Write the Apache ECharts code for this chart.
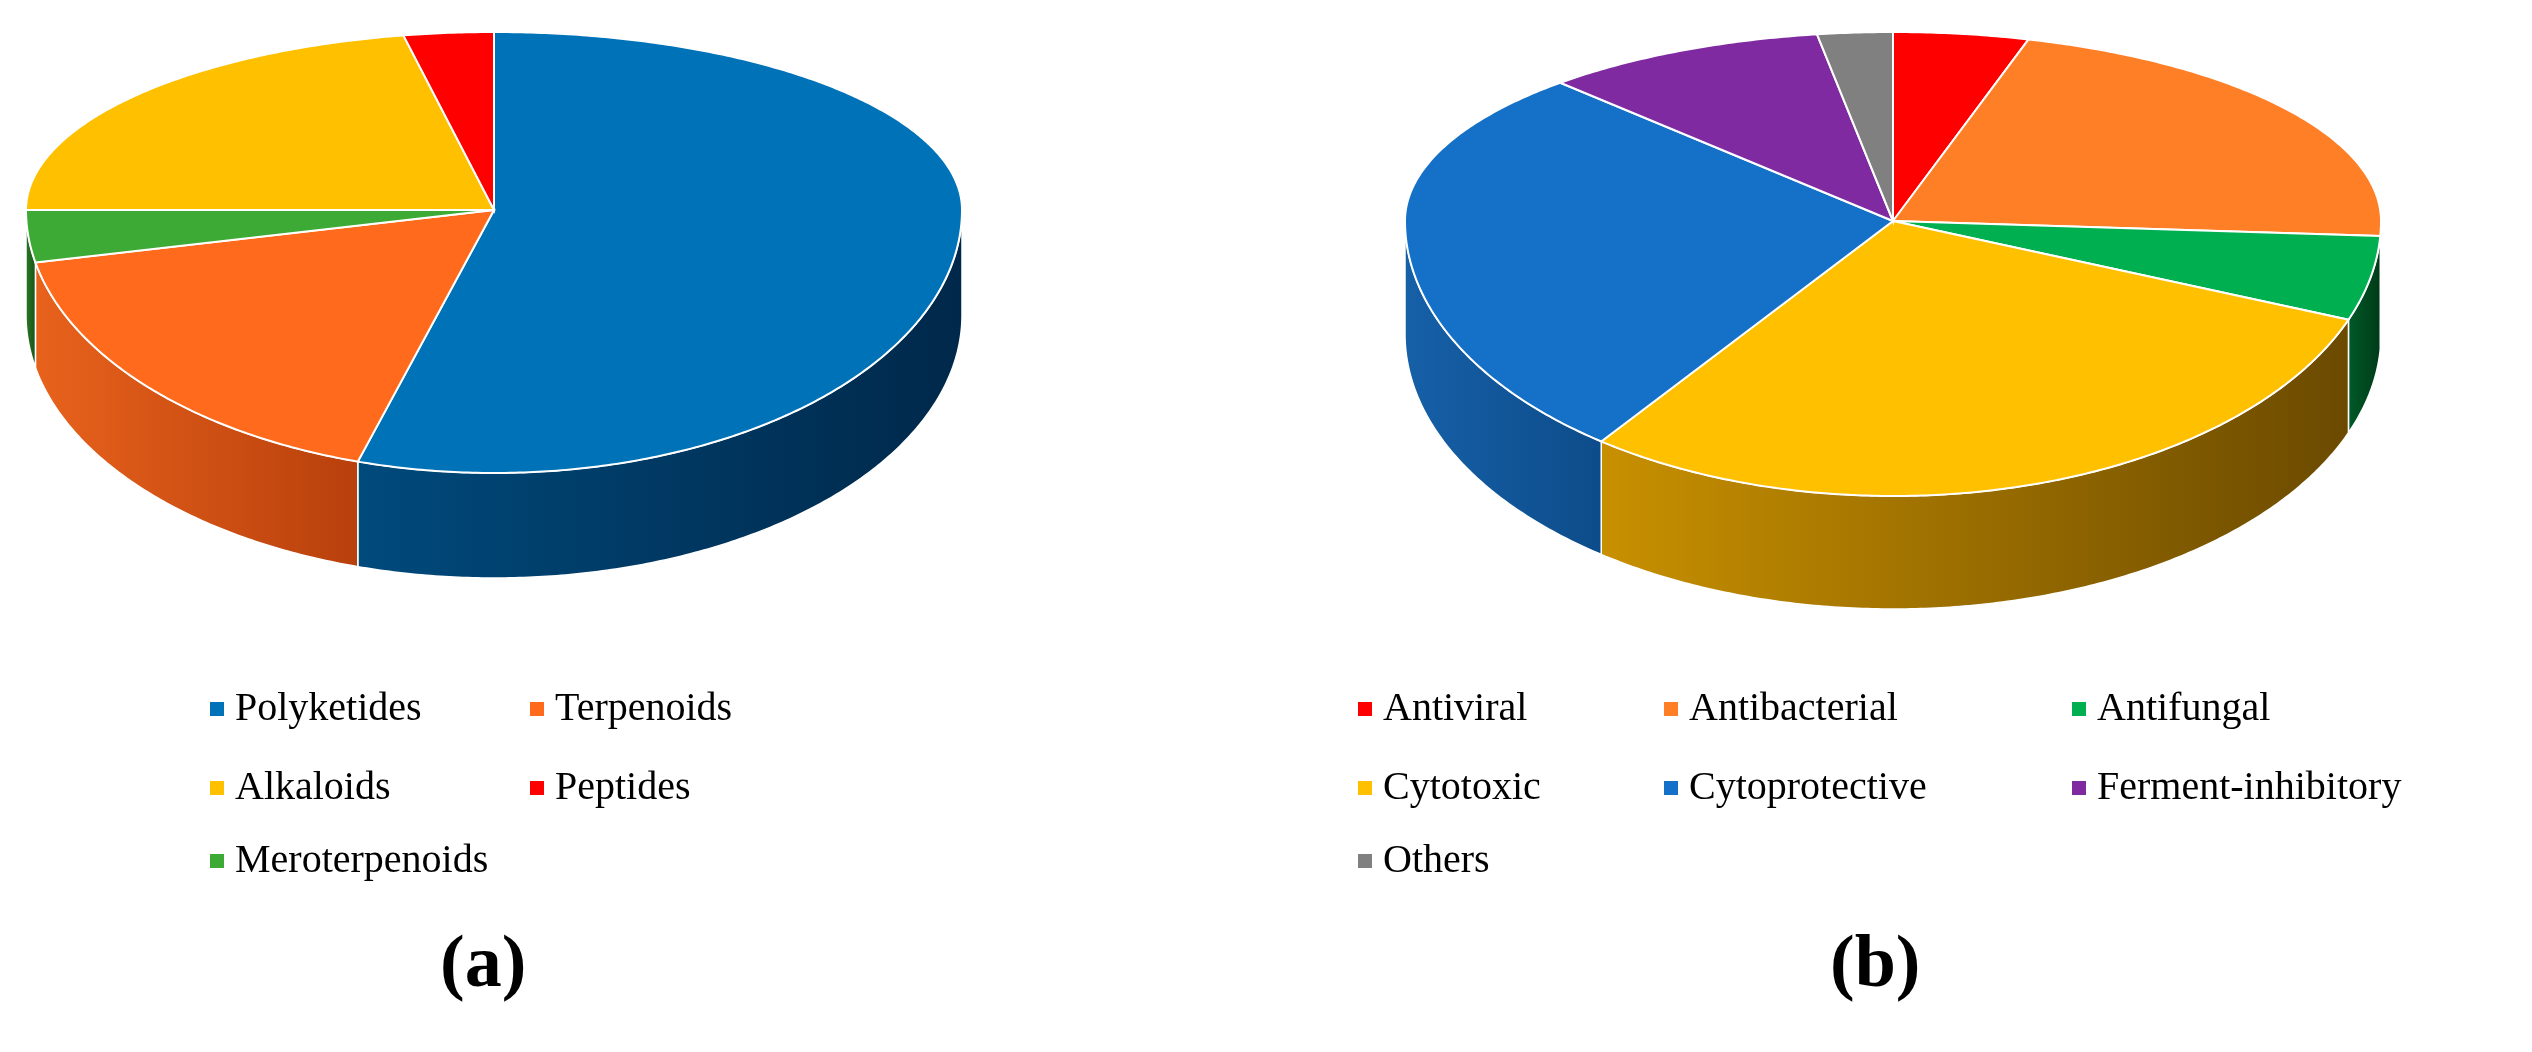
<!DOCTYPE html><html><head><meta charset="utf-8">
<script src="https://cdn.jsdelivr.net/npm/echarts@6/dist/echarts.min.js"></script>
<style>html,body{margin:0;padding:0;background:#fff}#c{width:2532px;height:1052px}</style></head><body><div id="c"></div>
<script>
const namesA=['Polyketides','Terpenoids','Meroterpenoids','Alkaloids','Peptides'];
const valuesA=[54.7,17.1,3.2,21.9,3.1];
const colorsA=['#0072B8','#FF6A1C','#3DAA35','#FFC000','#FF0000'];
const sideA=[['#004a7c','#00284a'],['#e8621c','#b8400c'],['#2a7a25','#1a5015'],['#c89000','#6b4a00'],['#b00000','#700000']];
const namesB=['Antiviral','Antibacterial','Antifungal','Cytotoxic','Cytoprotective','Ferment-inhibitory','Others'];
const valuesB=[4.5,21.5,5,29.5,28,9.5,2.5];
const colorsB=['#FF0000','#FF7F27','#00B050','#FFC000','#1570C8','#7F2AA0','#808080'];
const sideB=[['#b00000','#700000'],['#d06010','#904008'],['#005a28','#003a18'],['#c89000','#6b4a00'],['#1660a8','#0d4c8a'],['#5a1a78','#3a0e50'],['#606060','#404040']];
const geomA={cx:494,cy:210,rx:468,ryT:178,ryB:263,d:105};
const geomB={cx:1893,cy:221,rx:488,ryT:189,ryB:275,d:113};

function pt(g,t,dy){const s=Math.sin(t),c=Math.cos(t);return [g.cx+g.rx*s,g.cy-(c>0?g.ryT:g.ryB)*c+(dy||0)];}
function angles(vals){const tot=vals.reduce((a,b)=>a+b,0);let acc=0;return vals.map(v=>{const a0=acc/tot*2*Math.PI;acc+=v;return [a0,acc/tot*2*Math.PI];});}
function arc(g,a0,a1,dy){const n=Math.max(2,Math.ceil((a1-a0)/0.01));const p=[];for(let i=0;i<=n;i++)p.push(pt(g,a0+(a1-a0)*i/n,dy));return p;}
function makeSeries(vals,cols,sides,g){
  const ang=angles(vals);
  const side={type:'custom',coordinateSystem:'none',silent:true,z:1,data:vals.map((v,i)=>[i]),
    renderItem:(p,api)=>{const i=api.value(0);let [a0,a1]=ang[i];const lo=Math.PI/2,hi=3*Math.PI/2;
      const s=Math.max(a0,lo),e=Math.min(a1,hi);if(e<=s)return {type:'group',children:[]};
      const top=arc(g,s,e,0),bot=arc(g,s,e,g.d).reverse();
      return {type:'polygon',shape:{points:top.concat(bot)},style:{fill:new echarts.graphic.LinearGradient(0,0,1,0,[{offset:0,color:sides[i][0]},{offset:1,color:sides[i][1]}]),stroke:'#fff',lineWidth:1.5}};}};
  const top={type:'custom',coordinateSystem:'none',silent:true,z:2,data:vals.map((v,i)=>[i]),
    renderItem:(p,api)=>{const i=api.value(0);const [a0,a1]=ang[i];
      const pts=[[g.cx,g.cy]].concat(arc(g,a0,a1,0));
      return {type:'polygon',shape:{points:pts},style:{fill:cols[i],stroke:'#fff',lineWidth:2}};}};
  return [side,top];
}
const font='"Liberation Serif","DejaVu Serif",serif';
const allNames=namesA.concat(namesB),allCols=colorsA.concat(colorsB);
const legPos={Polyketides:[205,707],Terpenoids:[525,707],Alkaloids:[205,786],Peptides:[525,786],Meroterpenoids:[205,859],
Antiviral:[1353,707],Antibacterial:[1659,707],Antifungal:[2067,707],Cytotoxic:[1353,786],Cytoprotective:[1659,786],'Ferment-inhibitory':[2067,786],Others:[1353,859]};
const legends=allNames.map(n=>({data:[n],left:legPos[n][0],top:legPos[n][1]-23,icon:'rect',itemWidth:14,itemHeight:14,itemGap:10,selectedMode:false,
  textStyle:{fontFamily:font,fontSize:40,color:'#000',padding:[0,0,0,6]}}));
const option={animation:false,legend:legends,
  graphic:[{type:'text',left:440,top:930,style:{text:'(a)',font:'bold 74px '+font,fill:'#000'}},
           {type:'text',left:1830,top:930,style:{text:'(b)',font:'bold 74px '+font,fill:'#000'}}],
  series:makeSeries(valuesA,colorsA,sideA,geomA).concat(makeSeries(valuesB,colorsB,sideB,geomB)).concat([
   {type:'pie',radius:[0,0],center:[-100,-100],silent:true,label:{show:false},labelLine:{show:false},
    data:allNames.map((n,i)=>({name:n,value:1,itemStyle:{color:allCols[i]}}))}])};
echarts.init(document.getElementById('c')).setOption(option);
</script></body></html>
